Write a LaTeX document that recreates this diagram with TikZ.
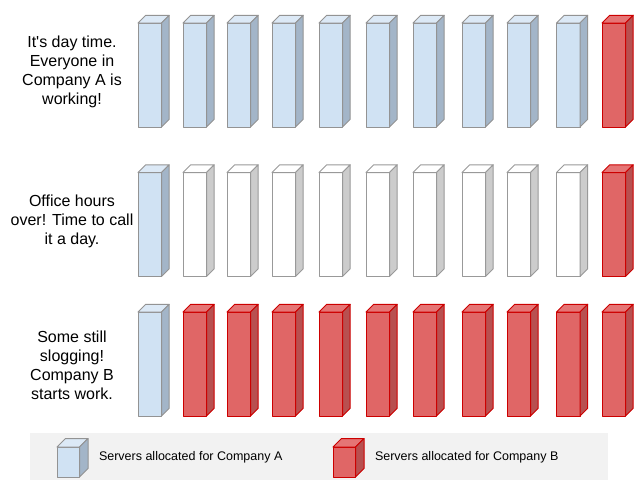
\documentclass[tikz,border=0pt]{standalone}
\usepackage{fontspec}
\setmainfont{Liberation Sans}
\definecolor{frontA}{HTML}{D0E2F3}
\definecolor{sideA}{HTML}{A3B5C8}
\definecolor{topA}{HTML}{DCE9F6}
\definecolor{strokeA}{HTML}{939393}
\definecolor{frontB}{HTML}{E06666}
\definecolor{sideB}{HTML}{B85050}
\definecolor{topB}{HTML}{E57575}
\definecolor{strokeB}{HTML}{CC0000}
\definecolor{frontW}{HTML}{FFFFFF}
\definecolor{sideW}{HTML}{CCCCCC}
\definecolor{topW}{HTML}{FFFFFF}
\definecolor{strokeW}{HTML}{999999}
\definecolor{legendbg}{HTML}{F2F2F2}
\newcommand\srvbox[6]{%
  \filldraw[draw=stroke#6,fill=front#6] (#1,#2) rectangle ++(#3,#4);
  \filldraw[draw=stroke#6,fill=top#6] (#1,#2) -- ++(#5,-#5) -- ++(#3,0) -- ++(-#5,#5) -- cycle;
  \filldraw[draw=stroke#6,fill=side#6] (#1+#3,#2) -- ++(#5,-#5) -- ++(0,#4) -- ++(-#5,#5) -- cycle;
}
\begin{document}
\begin{tikzpicture}[x=1pt,y=-1pt,line width=1pt,line join=round,
  rowlabel/.style={align=center,font=\fontsize{16}{19}\selectfont,inner sep=0pt},
  legendlabel/.style={anchor=west,font=\fontsize{12.5}{15}\selectfont,inner sep=0pt}]
\useasboundingbox (0,0) rectangle (640,480);
% row 1
\foreach \x/\c in {138/A,183/A,227/A,272/A,319/A,366/A,413/A,462/A,507/A,556.5/A,602/B}
  {\srvbox{\x}{23}{23.5}{104}{7.7}{\c}}
% row 2
\foreach \x/\c in {138/A,183/W,227/W,272/W,319/W,366/W,413/W,462/W,507/W,556.5/W,602/B}
  {\srvbox{\x}{172.5}{23.5}{104}{7.7}{\c}}
% row 3
\foreach \x/\c in {138/A,183/B,227/B,272/B,319/B,366/B,413/B,462/B,507/B,556.5/B,602/B}
  {\srvbox{\x}{312}{23.5}{104}{7.7}{\c}}
% labels
\node[rowlabel] (l1) at (72,72) {It\textquotesingle s day time.\\Everyone in\\Company A is\\working!};
\node[rowlabel] (l2) at (72,221.5) {Office hours\\over! Time to call\\it a day.};
\node[rowlabel] (l3) at (72,365) {Some still\\slogging!\\Company B\\starts work.};
% legend
\fill[legendbg] (30,433) rectangle (608,480);
\srvbox{57}{447}{22.5}{30}{8.5}{A}
\srvbox{333}{447}{22.5}{30}{8.5}{B}
\node[legendlabel] (la) at (98.5,457) {Servers allocated for Company A};
\node[legendlabel] (lb) at (374.5,457) {Servers allocated for Company B};
\end{tikzpicture}
\end{document}
